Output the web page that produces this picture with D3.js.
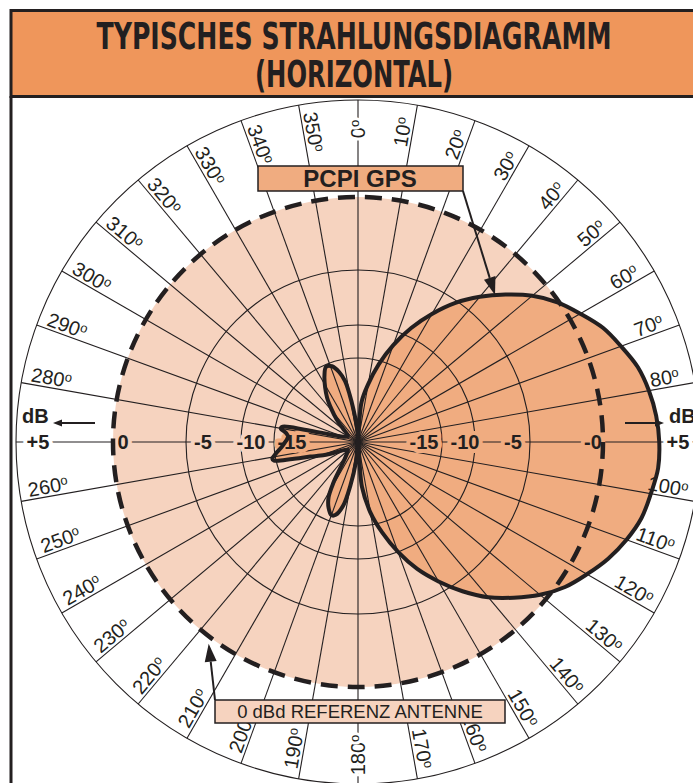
<!DOCTYPE html>
<html>
<head>
<meta charset="utf-8">
<script src="https://cdn.jsdelivr.net/npm/d3@7"></script>
<style>
  body { margin: 0; background: #fff; }
  svg { display: block; }
</style>
</head>
<body>
<svg id="chart" width="693" height="783"></svg>
<script>
const titleLines = ["TYPISCHES STRAHLUNGSDIAGRAMM", "(HORIZONTAL)"];
const ringDb = [-15, -10, -5];
const refDb = 0;
const outerDb = 5;
const spokeAz = d3.range(0, 360, 10);
const degreeAz = spokeAz.filter(a => a !== 90 && a !== 270);
const leftDbValues = [5, 0, -5, -10, -15];
const leftDbLabels = ["+5", "0", "-5", "-10", "-15"];
const rightDbValues = [-15, -10, -5, 0, 5];
const rightDbLabels = ["-15", "-10", "-5", "-0", "+5"];
const antennaName = "PCPI GPS";
const referenceName = "0 dBd REFERENZ ANTENNE";

// measured pattern (azimuth in degrees, gain in dB)
const patternAz = [0, 5, 10, 15, 20, 25, 30, 35, 40, 45, 50, 55, 60, 65, 70, 75, 80, 85, 90, 95,
  100, 105, 110, 115, 120, 125, 130, 135, 140, 145, 150, 155, 160, 165, 170, 175, 180,
  186, 190, 193, 197, 200, 204, 208, 211, 214, 218, 225, 232, 240, 246, 250, 253, 255.5, 257.5, 259, 262,
  266, 270, 274, 277, 280, 281.5, 283, 285, 288, 292, 300, 305, 312, 317, 321, 325, 329, 333, 337, 341,
  345, 348, 350, 352, 355, 358];
const patternDb = [-30, -22.9, -19.5, -15.6, -12.1, -9.2, -7.2, -5.2, -3.8, -2.5, -1.2, -0.1, 0.6, 1.3, 1.8, 2.3, 2.6, 2.8, 2.9, 2.9,
  2.7, 2.5, 2.1, 1.6, 1.0, 0.4, -0.5, -1.7, -2.9, -4.3, -6.0, -7.9, -10.0, -13.5, -17.2, -22.0, -30,
  -26.4, -22.0, -18.4, -16.4, -16.1, -17.1, -18.8, -21.4, -24.3, -26.1, -27.3, -27.7, -27.1, -25.2, -22.9, -21.1, -17.9, -14.7, -14.5, -15.2,
  -16.3, -17.0, -17.5, -17.1, -16.0, -16.3, -20.2, -24.6, -26.8, -27.5, -27.9, -27.7, -26.4, -24.3, -22.5, -20.4, -18.6, -16.8, -15.4, -15.7,
  -17.1, -18.9, -21.4, -24.1, -26.8, -28.6];

const ink = "#231f20";
const headerFill = "#ef965b";
const refFill = "#f6d3bf";
const lobeFill = "#f0ac80";
const font = "'Liberation Sans', Arial, Helvetica, sans-serif";

const cx = 358, cy = 442;
const svg = d3.select("#chart");

// non linear dB scale of the printed grid
const r = d3.scaleLinear()
  .domain([-30, -15, -10, -5, 0, 5])
  .range([0, 84, 117, 172, 245, 342]);
const gainAt = d3.scaleLinear().domain(patternAz).range(patternDb);
const rad = a => a * Math.PI / 180;
const polar = (a, rr) => [cx + rr * Math.sin(rad(a)), cy - rr * Math.cos(rad(a))];
// how far inside its ring each dB label sits
const labelInset = d => ({"5": 22, "0": 10, "-5": 17, "-10": 10, "-15": 18})[d];

function arrow(g, x1, y1, x2, y2, len, half) {
  const ang = Math.atan2(y2 - y1, x2 - x1);
  const bx = x2 - len * Math.cos(ang), by = y2 - len * Math.sin(ang);
  g.append("line")
    .attr("x1", x1).attr("y1", y1).attr("x2", bx).attr("y2", by)
    .attr("stroke", ink).attr("stroke-width", 2);
  g.append("path")
    .attr("d", `M${x2},${y2}L${bx + half * Math.sin(ang)},${by - half * Math.cos(ang)}L${bx - half * Math.sin(ang)},${by + half * Math.cos(ang)}Z`)
    .attr("fill", ink);
}

// header
svg.append("rect")
  .attr("x", 11).attr("y", 10.5).attr("width", 720).attr("height", 86)
  .attr("fill", headerFill).attr("stroke", ink).attr("stroke-width", 3);
svg.append("line")
  .attr("x1", 11).attr("x2", 11).attr("y1", 96).attr("y2", 783)
  .attr("stroke", ink).attr("stroke-width", 3);
svg.selectAll(".title")
  .data(titleLines)
  .join("text")
  .attr("class", "title")
  .attr("x", 354)
  .attr("y", (d, i) => i === 0 ? 49 : 87)
  .attr("text-anchor", "middle")
  .attr("font-family", "'Liberation Sans Narrow', 'DejaVu Sans Condensed', " + font)
  .attr("font-weight", "bold")
  .attr("font-size", 38)
  .attr("textLength", (d, i) => i === 0 ? 515 : 198)
  .attr("lengthAdjust", "spacingAndGlyphs")
  .attr("fill", ink)
  .text(d => d);

const plot = svg.append("g");

// reference antenna area
plot.append("circle")
  .attr("cx", cx).attr("cy", cy).attr("r", r(refDb))
  .attr("fill", refFill);

const lobe = d3.lineRadial()
  .angle((d, i) => rad(patternAz[i]))
  .radius(d => r(d))
  .curve(d3.curveCatmullRomClosed.alpha(0.5));

plot.append("path")
  .attr("transform", `translate(${cx},${cy})`)
  .attr("d", lobe(patternDb))
  .attr("fill", lobeFill);

// grid
plot.selectAll(".ring")
  .data(ringDb.concat([outerDb]))
  .join("circle")
  .attr("class", "ring")
  .attr("cx", cx).attr("cy", cy)
  .attr("r", d => r(d))
  .attr("fill", "none")
  .attr("stroke", ink)
  .attr("stroke-width", 1.1);

plot.selectAll(".spoke")
  .data(spokeAz)
  .join("line")
  .attr("class", "spoke")
  .attr("x1", cx).attr("y1", cy)
  .attr("x2", d => polar(d, r(outerDb))[0])
  .attr("y2", d => polar(d, r(outerDb))[1])
  .attr("stroke", ink)
  .attr("stroke-width", 1.1);

// colour behind a point, used for the label halos
function backgroundAt(a, rr) {
  if (rr < r(gainAt(a))) return lobeFill;
  if (rr < r(refDb)) return refFill;
  return "#fff";
}

function dbLabels(values, labels, az) {
  plot.selectAll(".db" + az)
    .data(values)
    .join("text")
    .attr("class", "db" + az)
    .attr("x", d => polar(az, r(d) - labelInset(d))[0])
    .attr("y", cy)
    .attr("dy", "0.36em")
    .attr("text-anchor", "middle")
    .attr("font-family", font)
    .attr("font-weight", "bold")
    .attr("font-size", 20)
    .attr("fill", ink)
    .attr("stroke", d => backgroundAt(az, r(d) - labelInset(d)))
    .attr("stroke-width", 8)
    .attr("stroke-linejoin", "round")
    .attr("paint-order", "stroke")
    .text((d, i) => labels[i]);
}
dbLabels(leftDbValues, leftDbLabels, 270);
dbLabels(rightDbValues, rightDbLabels, 90);

plot.append("path")
  .attr("transform", `translate(${cx},${cy})`)
  .attr("d", lobe(patternDb))
  .attr("fill", "none")
  .attr("stroke", ink)
  .attr("stroke-width", 4)
  .attr("stroke-linejoin", "round");

plot.append("circle")
  .attr("cx", cx).attr("cy", cy).attr("r", r(refDb))
  .attr("fill", "none")
  .attr("stroke", ink)
  .attr("stroke-width", 4.5)
  .attr("stroke-dasharray", "17 10");

// degree labels, read outward on the right half, inward on the left half
const degLabel = plot.selectAll(".deg")
  .data(degreeAz)
  .join("text")
  .attr("class", "deg")
  .attr("transform", d => {
    const p = polar(d, 313);
    return `translate(${p[0]},${p[1]}) rotate(${d < 180 ? d - 90 : d + 90})`;
  })
  .attr("y", d => (d % 180 === 0) ? 7 : -3)
  .attr("text-anchor", "middle")
  .attr("font-family", font)
  .attr("font-size", 20)
  .attr("fill", ink)
  .attr("stroke", d => (d % 180 === 0) ? "#fff" : "none")
  .attr("stroke-width", 6)
  .attr("paint-order", "stroke");
degLabel.append("tspan").text(d => d);
degLabel.append("tspan").attr("font-size", 13).attr("dy", -6).text("o");

// dB direction marks
const marks = svg.append("g");
marks.append("text")
  .attr("x", 22).attr("y", 423)
  .attr("font-family", font).attr("font-weight", "bold").attr("font-size", 20)
  .attr("fill", ink).text("dB");
arrow(marks, 95, 423, 53, 423, 9, 3.5);
marks.append("text")
  .attr("x", 669).attr("y", 423)
  .attr("font-family", font).attr("font-weight", "bold").attr("font-size", 20)
  .attr("fill", ink).text("dB");
arrow(marks, 625, 423, 664, 423, 9, 3.5);

// captions
const notes = svg.append("g");
notes.append("rect")
  .attr("x", 258).attr("y", 166).attr("width", 205).attr("height", 25)
  .attr("fill", lobeFill).attr("stroke", ink).attr("stroke-width", 1.5);
notes.append("text")
  .attr("x", 360).attr("y", 187)
  .attr("text-anchor", "middle")
  .attr("font-family", font).attr("font-weight", "bold").attr("font-size", 24)
  .attr("fill", ink).text(antennaName);
const tipA = polar(43, r(gainAt(43)));
arrow(notes, 463, 191, tipA[0], tipA[1], 18, 6);

notes.append("rect")
  .attr("x", 215).attr("y", 700).attr("width", 290).attr("height", 23)
  .attr("fill", refFill).attr("stroke", ink).attr("stroke-width", 1.5);
notes.append("text")
  .attr("x", 360).attr("y", 718)
  .attr("text-anchor", "middle")
  .attr("font-family", font).attr("font-size", 18.5)
  .attr("fill", ink).text(referenceName);
const tipB = polar(216.5, r(refDb) + 6);
arrow(notes, 215, 700, tipB[0], tipB[1], 18, 6);
</script>
</body>
</html>
